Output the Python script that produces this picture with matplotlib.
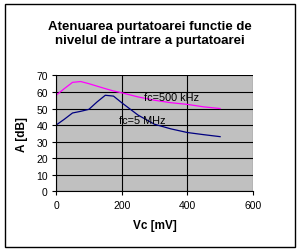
import matplotlib
matplotlib.use("Agg")
import matplotlib.pyplot as plt
from matplotlib.patches import Rectangle

plt.rcParams['font.family'] = ['Liberation Sans', 'DejaVu Sans']

vc = [0, 25, 50, 75, 100, 125, 150, 175, 200, 250, 300, 350, 400, 450, 500]
a_500khz = [58, 62, 65.8, 66.3, 65, 63.5, 62, 60.6, 59.5, 57, 55, 53.5, 52.5, 51, 50]
a_5mhz = [40, 43.5, 47.3, 48.3, 49.5, 54, 58, 57.5, 53.5, 46, 40.5, 37.7, 35.5, 34.2, 33]

fig = plt.figure(figsize=(3.0, 2.53), dpi=100)
ax = fig.add_axes([0.187, 0.240, 0.656, 0.458])

ax.set_facecolor("#c0c0c0")
ax.plot(vc, a_500khz, color="#ff00ff", lw=0.9)
ax.plot(vc, a_5mhz, color="#000080", lw=0.9)

ax.text(268, 57, "fc=500 kHz", fontsize=7.8, va="center", ha="left")
ax.text(193, 43, "fc=5 MHz", fontsize=7.8, va="center", ha="left")

ax.set_xlim(0, 600)
ax.set_ylim(0, 70)
ax.set_xticks([0, 200, 400, 600])
ax.set_yticks(range(0, 71, 10))
ax.grid(True, color="black", lw=0.8)
ax.set_axisbelow(True)
ax.tick_params(labelsize=7.5, length=3, width=0.8, direction="out", pad=3)
for s in ["top", "right"]:
    ax.spines[s].set_visible(False)
for s in ["left", "bottom"]:
    ax.spines[s].set_linewidth(0.8)

ax.set_xlabel("Vc [mV]", fontsize=8.5, fontweight="bold", labelpad=7)
ax.set_ylabel("A [dB]", fontsize=8.5, fontweight="bold", labelpad=6)

fig.text(0.5, 0.865, "Atenuarea purtatoarei functie de\nnivelul de intrare a purtatoarei",
         ha="center", va="center", fontsize=9.5, fontweight="bold", linespacing=1.2)

fig.patches.append(Rectangle((5 / 300, 5 / 253), 290 / 300, 243 / 253, transform=fig.transFigure,
                             fill=False, edgecolor="black", lw=1.0))

fig.savefig("out.png", dpi=100)
